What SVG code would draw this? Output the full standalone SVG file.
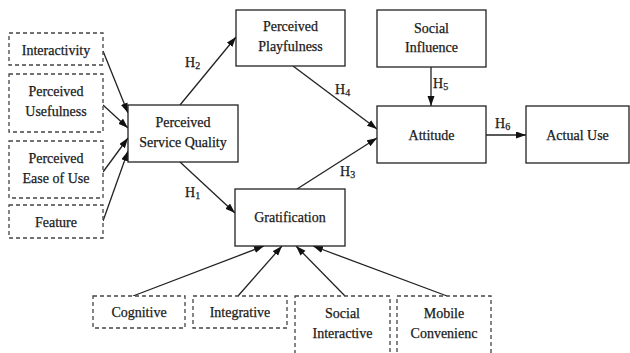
<svg xmlns="http://www.w3.org/2000/svg" width="630" height="353" viewBox="0 0 630 353">
<style>
text{font-family:"Liberation Serif","Times New Roman",serif;font-size:14px;fill:#1a1a1a;stroke:#1a1a1a;stroke-width:0.25;text-anchor:middle}
.lbl{text-anchor:start}
.sub{font-size:10px}
.solid{fill:#fff;stroke:#222;stroke-width:1.3}
.dash{fill:#fff;stroke:#444;stroke-width:1.3;stroke-dasharray:4 3}
.conn line{stroke:#222;stroke-width:1.3;marker-end:url(#ah)}
</style>
<defs>
<marker id="ah" markerUnits="userSpaceOnUse" markerWidth="11" markerHeight="8" refX="10" refY="3.5" orient="auto">
<path d="M0,0 L10,3.5 L0,7 z" fill="#111"/>
</marker>
</defs>
<rect width="630" height="353" fill="#fff"/>
<g class="conn">
<line x1="103" y1="51" x2="128" y2="113"/>
<line x1="103" y1="105" x2="128" y2="128"/>
<line x1="103" y1="172" x2="128" y2="138"/>
<line x1="103" y1="221" x2="128" y2="151"/>
<line x1="180" y1="105" x2="236" y2="37"/>
<line x1="180" y1="162" x2="235" y2="213"/>
<line x1="293" y1="66" x2="377" y2="129"/>
<line x1="297" y1="189" x2="377" y2="138"/>
<line x1="431" y1="67" x2="431" y2="106"/>
<line x1="486" y1="135" x2="526" y2="135"/>
<line x1="133" y1="296" x2="264" y2="246"/>
<line x1="238" y1="296" x2="282" y2="246"/>
<line x1="345" y1="296" x2="296" y2="246"/>
<line x1="447" y1="296" x2="313" y2="246"/>
</g>
<g id="labels">
<text class="lbl" x="185" y="67">H<tspan class="sub" dy="2">2</tspan></text>
<text class="lbl" x="185" y="197">H<tspan class="sub" dy="2">1</tspan></text>
<text class="lbl" x="335" y="94">H<tspan class="sub" dy="2">4</tspan></text>
<text class="lbl" x="340" y="176">H<tspan class="sub" dy="2">3</tspan></text>
<text class="lbl" x="433" y="88">H<tspan class="sub" dy="2">5</tspan></text>
<text class="lbl" x="495" y="128">H<tspan class="sub" dy="2">6</tspan></text>
</g>
<g id="interactivity"><rect class="dash" x="9" y="33" width="94" height="32"/><text x="56" y="55">Interactivity</text></g>
<g id="usefulness"><rect class="dash" x="9" y="74" width="94" height="58"/><text x="56" y="96">Perceived</text><text x="56" y="116">Usefulness</text></g>
<g id="ease"><rect class="dash" x="9" y="141" width="94" height="57"/><text x="56" y="163">Perceived</text><text x="56" y="183">Ease of Use</text></g>
<g id="feature"><rect class="dash" x="9" y="205" width="94" height="33"/><text x="56" y="227">Feature</text></g>
<g id="psq"><rect class="solid" x="128" y="105" width="110" height="57"/><text x="183" y="127">Perceived</text><text x="183" y="147">Service Quality</text></g>
<g id="playfulness"><rect class="solid" x="236" y="10" width="109" height="56"/><text x="290.5" y="31">Perceived</text><text x="290.5" y="51">Playfulness</text></g>
<g id="gratification"><rect class="solid" x="235" y="189" width="110" height="57"/><text x="290" y="222">Gratification</text></g>
<g id="social-influence"><rect class="solid" x="377" y="10" width="109" height="57"/><text x="431.5" y="33">Social</text><text x="431.5" y="52">Influence</text></g>
<g id="attitude"><rect class="solid" x="377" y="106" width="109" height="57"/><text x="431.5" y="140">Attitude</text></g>
<g id="actual-use"><rect class="solid" x="526" y="106" width="103" height="57"/><text x="577.5" y="140">Actual Use</text></g>
<g id="cognitive"><rect class="dash" x="93" y="296" width="92" height="32"/><text x="139" y="317">Cognitive</text></g>
<g id="integrative"><rect class="dash" x="193" y="296" width="94" height="32"/><text x="240" y="317">Integrative</text></g>
<g id="social-interactive"><rect class="dash" x="295" y="296" width="95" height="60"/><text x="342.5" y="318">Social</text><text x="342.5" y="338">Interactive</text></g>
<g id="mobile"><rect class="dash" x="397" y="296" width="94" height="60"/><text x="444" y="318">Mobile</text><text x="444" y="338">Convenienc</text></g>
</svg>
